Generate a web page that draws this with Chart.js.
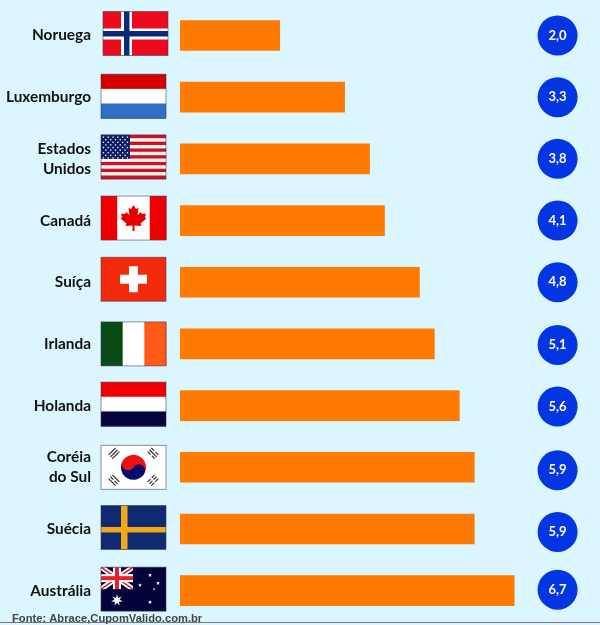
<!DOCTYPE html>
<html lang="pt">
<head>
<meta charset="utf-8">
<title>Paises</title>
<script src="https://cdn.jsdelivr.net/npm/chart.js@4"></script>
<style>
    html, body { margin: 0; padding: 0; background: #dcf6ff; }
    canvas { display: block; }
</style>
</head>
<body>
<canvas id="myChart" width="600" height="625"></canvas>
<script>
const paises = [
    "Noruega",
    "Luxemburgo",
    ["Estados", "Unidos"],
    "Canadá",
    "Suíça",
    "Irlanda",
    "Holanda",
    ["Coréia", "do Sul"],
    "Suécia",
    "Austrália",
];
const valores = [2.0, 3.3, 3.8, 4.1, 4.8, 5.1, 5.6, 5.9, 5.9, 6.7];
const bandeiras = ["no", "lu", "us", "ca", "ch", "ie", "nl", "kr", "se", "au"];
const fonte = "Fonte: Abrace,CupomValido.com.br";

// small hand nudges, the flags and circles in the original are not quite in line
const flagNudge = [-2, -1, -2, -2.5, -3, 0, -1.5, 0, -1.5, -1.5];
const circleNudge = [0, 0, 0, 0, 0, 1, 1, 3, 3, -1];

const FLAG_W = 65;
const FLAG_H = 44;

function stripes(ctx, colors, vertical) {
    colors.forEach((c, i) => {
        ctx.fillStyle = c;
        if (vertical) {
            ctx.fillRect(i * FLAG_W / colors.length, 0, FLAG_W / colors.length + 0.5, FLAG_H);
        } else {
            ctx.fillRect(0, i * FLAG_H / colors.length, FLAG_W, FLAG_H / colors.length + 0.5);
        }
    });
}

function star(ctx, x, y, r, points) {
    ctx.beginPath();
    for (let i = 0; i < points * 2; i++) {
        const rad = i % 2 ? r * 0.42 : r;
        const a = -Math.PI / 2 + i * Math.PI / points;
        ctx.lineTo(x + rad * Math.cos(a), y + rad * Math.sin(a));
    }
    ctx.closePath();
    ctx.fill();
}

function trigram(ctx, x, y, angle, breaks) {
    ctx.save();
    ctx.translate(x, y);
    ctx.rotate(angle);
    ctx.strokeStyle = "#222";
    ctx.lineWidth = 1.1;
    [-2.6, 0, 2.6].forEach((o, i) => {
        ctx.beginPath();
        if (breaks[i]) {
            ctx.moveTo(-5, o); ctx.lineTo(-0.8, o);
            ctx.moveTo(0.8, o); ctx.lineTo(5, o);
        } else {
            ctx.moveTo(-5, o); ctx.lineTo(5, o);
        }
        ctx.stroke();
    });
    ctx.restore();
}

const desenhos = {
    no(ctx) {
        ctx.fillStyle = "#ee0a1e";
        ctx.fillRect(0, 0, FLAG_W, FLAG_H);
        ctx.fillStyle = "#ffffff";
        ctx.fillRect(18, 0, 11, FLAG_H);
        ctx.fillRect(0, 17, FLAG_W, 11);
        ctx.fillStyle = "#0a2a78";
        ctx.fillRect(21, 0, 5.5, FLAG_H);
        ctx.fillRect(0, 19.5, FLAG_W, 5.5);
    },
    lu(ctx) {
        stripes(ctx, ["#d40000", "#ffffff", "#2f6fc4"]);
    },
    us(ctx) {
        for (let i = 0; i < 13; i++) {
            ctx.fillStyle = i % 2 ? "#fff6ee" : "#cc1226";
            ctx.fillRect(0, i * FLAG_H / 13, FLAG_W, FLAG_H / 13 + 0.5);
        }
        ctx.fillStyle = "#0c1f66";
        ctx.fillRect(0, 0, 29, 24);
        ctx.fillStyle = "#ffffff";
        for (let r = 0; r < 9; r++) {
            const n = r % 2 ? 5 : 6;
            for (let c = 0; c < n; c++) {
                const x = (r % 2 ? 4.8 : 2.4) + c * 4.8;
                ctx.fillRect(x - 0.6, 1.6 + r * 2.6, 1.3, 1.3);
            }
        }
    },
    ca(ctx) {
        stripes(ctx, ["#ee0000", "#ffffff", "#ffffff", "#ee0000"], true);
        ctx.fillStyle = "#e60000";
        ctx.beginPath();
        const leaf = [[32.5, 9], [35, 13], [37.5, 12], [36.5, 19], [40, 16], [41, 18], [45, 17.5], [44, 21.5], [45.5, 22.5], [39.5, 27.5], [40.5, 30], [33.5, 29.5], [33.5, 35], [31.5, 35], [31.5, 29.5], [24.5, 30], [25.5, 27.5], [19.5, 22.5], [21, 21.5], [20, 17.5], [24, 18], [25, 16], [28.5, 19], [27.5, 12], [30, 13]];
        leaf.forEach(p => ctx.lineTo(p[0], p[1]));
        ctx.closePath();
        ctx.fill();
    },
    ch(ctx) {
        ctx.fillStyle = "#f32a0c";
        ctx.fillRect(0, 0, FLAG_W, FLAG_H);
        ctx.fillStyle = "#ffffff";
        ctx.fillRect(28, 9, 9, 26);
        ctx.fillRect(19, 17.5, 27, 9);
    },
    ie(ctx) {
        stripes(ctx, ["#0a4a14", "#ffffff", "#ff5a1a"], true);
    },
    nl(ctx) {
        stripes(ctx, ["#f00000", "#ffffff", "#05053f"]);
    },
    kr(ctx) {
        ctx.fillStyle = "#ffffff";
        ctx.fillRect(0, 0, FLAG_W, FLAG_H);
        const cx = 32.5, cy = 22, r = 12.5;
        ctx.save();
        ctx.translate(cx, cy);
        ctx.rotate(0.55);
        ctx.fillStyle = "#f01010";
        ctx.beginPath();
        ctx.arc(0, 0, r, Math.PI, 0);
        ctx.fill();
        ctx.fillStyle = "#0a0a6a";
        ctx.beginPath();
        ctx.arc(0, 0, r, 0, Math.PI);
        ctx.fill();
        ctx.beginPath();
        ctx.arc(r / 2, 0, r / 2, 0, Math.PI * 2);
        ctx.fill();
        ctx.fillStyle = "#f01010";
        ctx.beginPath();
        ctx.arc(-r / 2, 0, r / 2, 0, Math.PI * 2);
        ctx.fill();
        ctx.restore();
        trigram(ctx, 13, 8, -Math.PI / 4, [false, false, false]);
        trigram(ctx, 52, 8, Math.PI / 4, [true, false, true]);
        trigram(ctx, 13, 35, Math.PI / 4, [false, true, false]);
        trigram(ctx, 52, 35, -Math.PI / 4, [true, true, true]);
    },
    se(ctx) {
        ctx.fillStyle = "#0f2a6e";
        ctx.fillRect(0, 0, FLAG_W, FLAG_H);
        ctx.fillStyle = "#f0a818";
        ctx.fillRect(20, 0, 6.5, FLAG_H);
        ctx.fillRect(0, 21.5, FLAG_W, 5.5);
    },
    au(ctx) {
        ctx.fillStyle = "#04043c";
        ctx.fillRect(0, 0, FLAG_W, FLAG_H);
        ctx.save();
        ctx.beginPath();
        ctx.rect(0, 0, 32, 22);
        ctx.clip();
        ctx.strokeStyle = "#fff";
        ctx.lineWidth = 5;
        ctx.beginPath();
        ctx.moveTo(0, 0); ctx.lineTo(32, 22);
        ctx.moveTo(32, 0); ctx.lineTo(0, 22);
        ctx.stroke();
        ctx.strokeStyle = "#e8202a";
        ctx.lineWidth = 1.6;
        ctx.stroke();
        ctx.fillStyle = "#fff";
        ctx.fillRect(0, 7, 32, 8);
        ctx.fillRect(12, 0, 8, 22);
        ctx.fillStyle = "#e8202a";
        ctx.fillRect(0, 9, 32, 4);
        ctx.fillRect(14, 0, 4, 22);
        ctx.restore();
        ctx.fillStyle = "#ffffff";
        star(ctx, 16, 33, 6, 7);
        star(ctx, 49, 8, 2.2, 5);
        star(ctx, 57, 16, 2.2, 5);
        star(ctx, 39, 18, 2, 5);
        star(ctx, 53, 22, 1.4, 5);
        star(ctx, 49, 35, 2.2, 5);
    },
};

const extras = {
    id: "extras",
    afterDatasetsDraw(chart) {
        const ctx = chart.ctx;
        const y = chart.scales.y;
        const x = chart.scales.x;

        bandeiras.forEach((b, i) => {
            const top = y.getPixelForValue(i) + flagNudge[i] - FLAG_H / 2;
            ctx.save();
            ctx.translate(b === "no" ? 103 : 101, top);
            desenhos[b](ctx);
            ctx.strokeStyle = "rgba(60,60,80,0.7)";
            ctx.lineWidth = 0.8;
            ctx.strokeRect(0, 0, FLAG_W, FLAG_H);
            ctx.restore();
        });

        // value circles sit in one column at the right
        const cx = x.getPixelForValue(7.57);
        valores.forEach((v, i) => {
            const cy = y.getPixelForValue(i) + circleNudge[i];
            ctx.fillStyle = "#0336e2";
            ctx.beginPath();
            ctx.arc(cx, cy, 20, 0, Math.PI * 2);
            ctx.fill();
            ctx.fillStyle = "#ffffff";
            ctx.font = "bold 13px Lato";
            ctx.textAlign = "center";
            ctx.textBaseline = "middle";
            ctx.fillText(v.toFixed(1).replace(".", ","), cx, cy);
        });

        ctx.fillStyle = "#777777";
        ctx.fillRect(0, 622, 600, 1);
        ctx.fillStyle = "#444444";
        ctx.font = "bold 11.2px 'Liberation Sans'";
        ctx.textAlign = "left";
        ctx.textBaseline = "alphabetic";
        ctx.fillText(fonte, 12, 622);
    },
};

new Chart(document.getElementById("myChart"), {
    type: "bar",
    data: {
        labels: paises,
        datasets: [
            {
                data: valores,
                backgroundColor: "#ff7a00",
                barThickness: 30,
            },
        ],
    },
    options: {
        indexAxis: "y",
        responsive: false,
        animation: false,
        layout: {
            padding: { top: 4.65, bottom: 3.5, left: 0, right: 0 },
        },
        plugins: {
            legend: { display: false },
            tooltip: { enabled: false },
        },
        scales: {
            x: {
                display: false,
                min: 0,
                max: 8.42,
            },
            y: {
                afterFit(scale) {
                    scale.width = 180;
                    // tick padding also gets added above and below, drop that
                    scale.paddingTop = 0;
                    scale.paddingBottom = 0;
                },
                grid: { display: false, drawTicks: false },
                border: { display: false },
                ticks: {
                    color: "#111111",
                    padding: 89,
                    autoSkip: false,
                    font: { family: "Lato", weight: "bold", size: 15.4, lineHeight: 1.28 },
                },
            },
        },
    },
    plugins: [extras],
});
</script>
</body>
</html>
